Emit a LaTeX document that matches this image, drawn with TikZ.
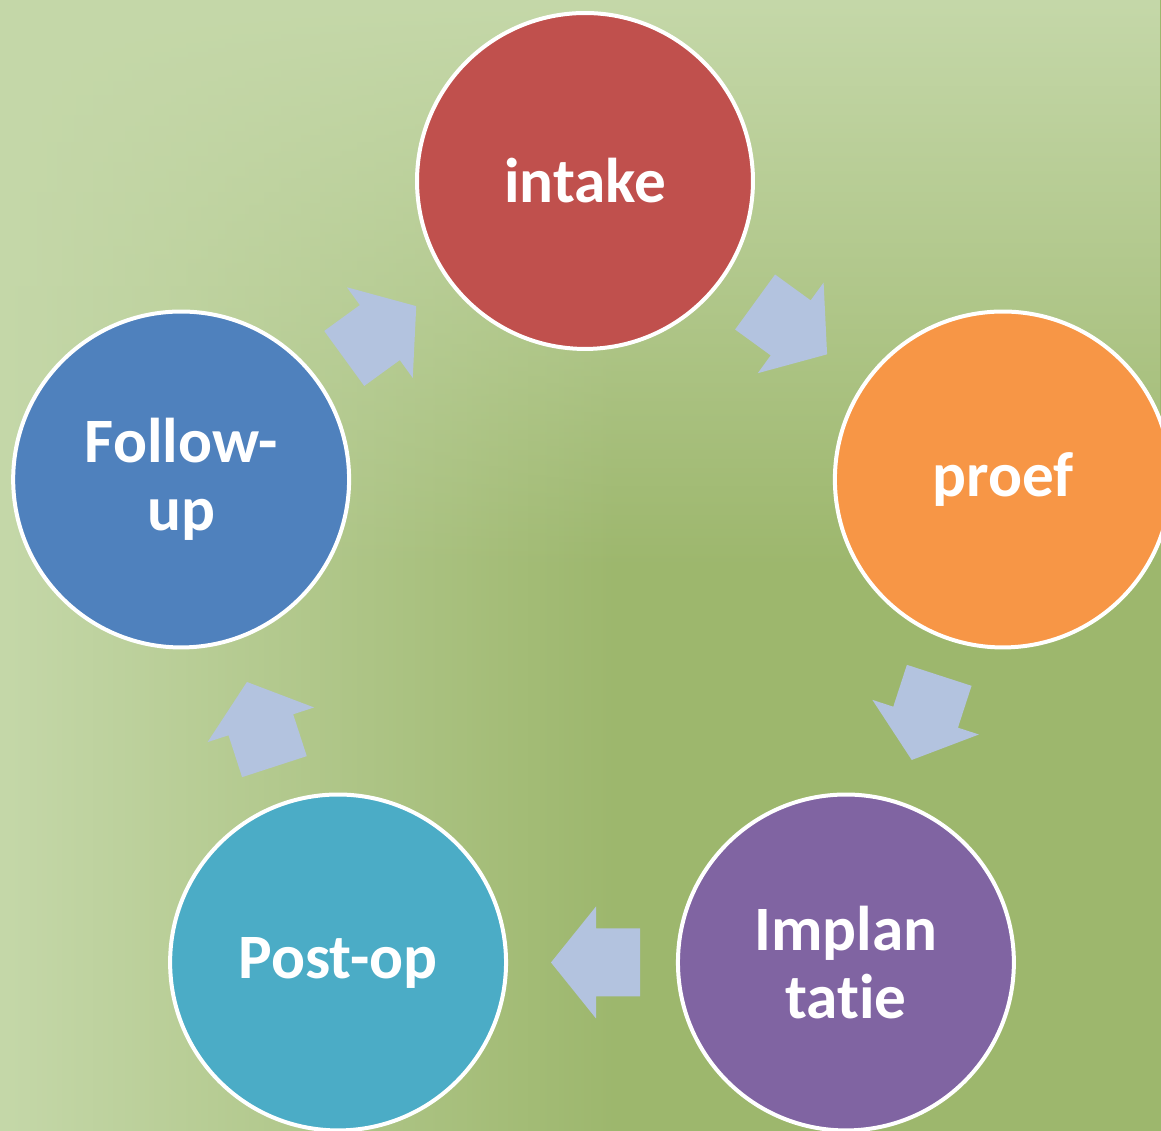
\documentclass[tikz,border=0pt]{standalone}
\usepackage{fontspec}
\setmainfont{Carlito}[Ligatures=NoCommon]
\usetikzlibrary{calc, fadings}

\definecolor{bgdark}{HTML}{9DB76D}
\definecolor{bglight}{HTML}{C5D8A9}
\definecolor{arrowblue}{HTML}{B3C3DF}
\definecolor{intakered}{HTML}{C0504D}
\definecolor{proeforange}{HTML}{F79646}
\definecolor{implantpurple}{HTML}{8064A2}
\definecolor{postopcyan}{HTML}{4BACC6}
\definecolor{followblue}{HTML}{4F81BD}

\tikzfading[name=fadeleft, left color=transparent!0, right color=transparent!100]
\tikzfading[name=fadetop, top color=transparent!0, bottom color=transparent!100]

\begin{document}
\begin{tikzpicture}[
  x=0.02cm, y=0.02cm,
  stage/.style={circle, draw=white, line width=0.08cm,
                minimum size=6.72cm, inner sep=0pt,
                align=center, text=white,
                font=\fontsize{36}{39}\selectfont\bfseries},
  cyclearrow/.style={fill=arrowblue, draw=none}
]

%% Background
\useasboundingbox (0,0) rectangle (1161,1131);
\fill[bgdark] (0,0) rectangle (1161,1131);
\fill[bglight, path fading=fadeleft] (0,0) rectangle (620,1131);
\fill[bglight, path fading=fadetop] (0,560) rectangle (1161,1131);

%% Stages (around the cycle centre)
\coordinate (cyc) at (592,518);
\node[stage, fill=intakered]     (intake)  at ($(cyc)+(90:432)+(-7,0)$) {intake};
\node[stage, fill=proeforange]   (proef)   at ($(cyc)+(18:432)$)   {proef};
\node[stage, fill=implantpurple] (implant) at ($(cyc)+(-54:432)$)  {Implan\\tatie};
\node[stage, fill=postopcyan]    (postop)  at ($(cyc)+(-126:432)$) {Post-op};
\node[stage, fill=followblue]    (follow)  at ($(cyc)+(162:432)$)  {Follow-\\up};

%% Block arrows between the stages
\foreach \from/\to/\dir in {intake/proef/-36, proef/implant/-108,
                            implant/postop/180, postop/follow/108,
                            follow/intake/36}
  \fill[cyclearrow, shift={($(\from)!0.5!(\to)$)}, rotate=\dir]
    (-48,34) -- (-4,34) -- (-4,56) -- (41,0) -- (-4,-56)
    -- (-4,-34) -- (-48,-34) -- cycle;

\end{tikzpicture}
\end{document}
